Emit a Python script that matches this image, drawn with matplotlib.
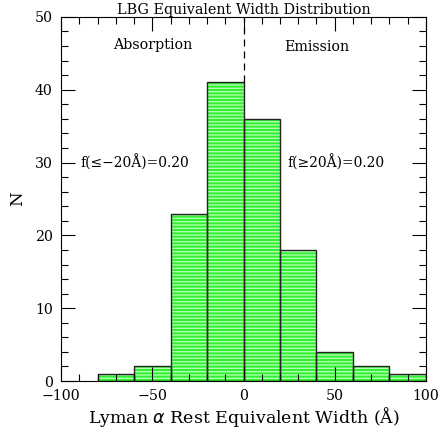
import matplotlib
matplotlib.use("Agg")
import matplotlib.pyplot as plt
import numpy as np

bin_edges = [-80, -60, -40, -20, 0, 20, 40, 60, 80, 100]
counts = [1, 2, 23, 41, 36, 18, 4, 2, 1]
x_tick_values = [-100, -50, 0, 50, 100]
x_tick_labels = ['\u2212100', '\u221250', '0', '50', '100']
y_tick_values = [0, 10, 20, 30, 40, 50]

plt.rcParams['font.family'] = ['DejaVu Serif', 'DejaVu Sans']
plt.rcParams['hatch.linewidth'] = 1.0

fig = plt.figure(figsize=(4.4, 4.34), dpi=100)
ax = fig.add_axes([0.139, 0.122, 0.829, 0.839])

lefts = np.array(bin_edges[:-1])
widths = np.diff(bin_edges)
ax.bar(lefts, counts, width=widths, align='edge', facecolor='#30f030',
       edgecolor='#b0ffb0', hatch='-----', linewidth=0)
ax.bar(lefts, counts, width=widths, align='edge', fill=False,
       edgecolor='#222222', linewidth=1.0)

ax.plot([0, 0], [max(counts), 50], ls=(0, (5.6, 4)), color='black', lw=0.9)

ax.set_xlim(-100, 100)
ax.set_ylim(0, 50)
ax.set_xticks(x_tick_values)
ax.set_xticklabels(x_tick_labels)
ax.set_xticks(np.arange(-100, 101, 10), minor=True)
ax.set_yticks(y_tick_values)
ax.set_yticks(np.arange(0, 51, 2), minor=True)
ax.tick_params(which='both', direction='in', top=True, right=True, labelsize=10.2)
ax.tick_params(which='major', length=10, width=0.8)
ax.tick_params(which='minor', length=5, width=0.8)
ax.tick_params(axis='x', pad=6)
ax.tick_params(axis='y', pad=6)

ax.text(-50, 46.2, 'Absorption', ha='center', va='center', fontsize=10.3)
ax.text(40.3, 45.9, 'Emission', ha='center', va='center', fontsize=10.3)
ax.text(-89.6, 30, 'f(\u2264\u221220\u00c5)=0.20', ha='left', va='center', fontsize=10)
ax.text(23.8, 30, 'f(\u226520\u00c5)=0.20', ha='left', va='center', fontsize=10)

ax.set_title('LBG Equivalent Width Distribution', fontsize=10.4, pad=1)
ax.set_xlabel('Lyman $\\alpha$ Rest Equivalent Width (\u00c5)', fontsize=12.5, labelpad=1)
ax.set_ylabel('N', fontsize=12, labelpad=6)

fig.savefig('out.png', dpi=100)
